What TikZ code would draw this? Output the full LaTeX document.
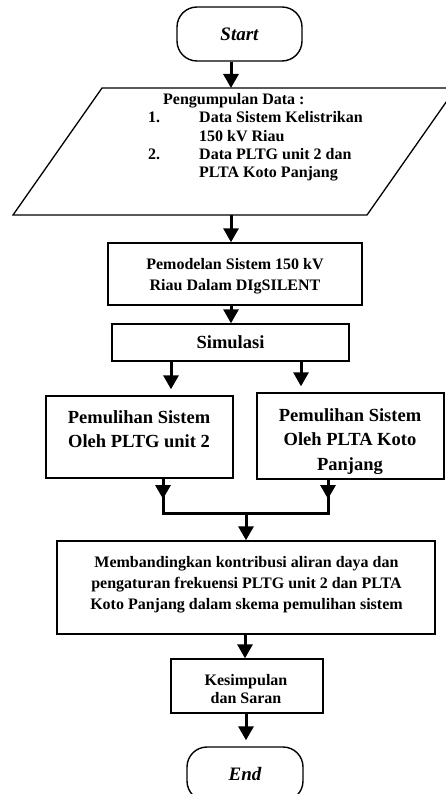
\documentclass[tikz,border=0pt]{standalone}
\usepackage{fontspec}
\setmainfont{Liberation Serif}
\usetikzlibrary{arrows.meta}
\tikzset{
  box/.style={draw, line width=1.4pt, rectangle, inner sep=0pt},
  term/.style={draw, line width=1.4pt, rectangle, rounded corners=20pt, inner sep=0pt, minimum width=#1, minimum height=54pt,
    font=\fontsize{19}{22}\selectfont\bfseries\itshape},
  txt/.style={inner sep=0pt, align=center, anchor=base},
  ptxt/.style={inner sep=0pt, anchor=base west, font=\fontsize{16}{18}\selectfont\bfseries},
  arr/.style={line width=3pt, -{Triangle[length=14pt,width=15pt]}},
  conn/.style={line width=3pt},
}
\begin{document}
\begin{tikzpicture}[x=1pt,y=-1pt]
\useasboundingbox (0,0) rectangle (446,794);
\clip (0,0) rectangle (446,794);
% start
\node[term=125pt] (start) at (239.5,34) {Start};
% parallelogram
\draw[line width=1.3pt] (102,88) -- (456,88) -- (367,215) -- (13,215) -- cycle;
\coordinate (partop) at (231,88);
\coordinate (parbot) at (231,215);
\node[ptxt] (p0) at (163,105) {Pengumpulan Data :};
\node[ptxt] (p1n) at (148,123) {1.};
\node[ptxt] (p1) at (199,123) {Data Sistem Kelistrikan};
\node[ptxt] (p1b) at (199,142) {150 kV Riau};
\node[ptxt] (p2n) at (148,160) {2.};
\node[ptxt] (p2) at (199,160) {Data PLTG unit 2 dan};
\node[ptxt] (p2b) at (199,178) {PLTA Koto Panjang};
% boxes
\node[box, minimum width=254pt, minimum height=62pt] (model) at (235,274) {};
\node[txt, font=\fontsize{16}{21}\selectfont\bfseries] (modelt) at (235,290) {Pemodelan Sistem 150 kV\\Riau Dalam DIgSILENT};
\node[box, minimum width=237pt, minimum height=37pt, font=\fontsize{18.5}{22}\selectfont\bfseries] (sim) at (230.5,342.5) {Simulasi};
\node[box, minimum width=187pt, minimum height=82pt] (b4) at (139.5,437) {};
\node[txt, font=\fontsize{18.5}{24}\selectfont\bfseries] (b4t) at (139,447) {Pemulihan Sistem\\Oleh PLTG unit 2};
\node[box, minimum width=187pt, minimum height=86pt] (b5) at (350.5,436) {};
\node[txt, font=\fontsize{18.5}{24.5}\selectfont\bfseries] (b5t) at (350,470) {Pemulihan Sistem\\Oleh PLTA Koto\\Panjang};
\node[box, minimum width=378pt, minimum height=93pt] (b6) at (246,587.5) {};
\node[txt, font=\fontsize{16}{21}\selectfont\bfseries] (b6t) at (246.5,609) {Membandingkan kontribusi aliran daya dan\\pengaturan frekuensi PLTG unit 2 dan PLTA\\Koto Panjang dalam skema pemulihan sistem};
\node[box, minimum width=152pt, minimum height=54pt] (b7) at (247,686) {};
\node[txt, font=\fontsize{16}{18}\selectfont\bfseries] (b7t) at (246,703) {Kesimpulan\\dan Saran};
\node[term=116pt] (endn) at (245,774) {End};
% connectors
\draw[arr] ([xshift=-8.5pt]start.south) -- (partop);
\draw[arr] (parbot) -- (parbot |- model.north);
\draw[arr] (model.south -| parbot) -- (sim.north -| parbot);
\draw[arr, shorten >=6pt] ([xshift=-59.5pt]sim.south) -- ([xshift=-59.5pt]sim.south |- b4.north);
\draw[arr, shorten >=6pt] ([xshift=70.5pt]sim.south) -- ([xshift=70.5pt]sim.south |- b5.north);
\coordinate (j1) at (163,513);
\coordinate (j2) at (328,513);
\coordinate (jm) at (246,513);
\draw[conn] (j1 |- b4.south) -- (j1) -- (j2) -- (j2 |- b5.south);
\draw[arr] (j1 |- b4.south) -- ([yshift=14pt]j1);
\draw[arr] (j2 |- b5.south) -- ([yshift=14pt]j2);
\draw[arr] (jm) -- (jm |- b6.north);
\draw[arr] ([xshift=-1pt]b6.south) -- ([xshift=-1pt]b6.south |- b7.north);
\draw[arr, shorten >=6pt] ([xshift=-1pt]b7.south) -- ([xshift=-1pt]b7.south |- endn.north);
\end{tikzpicture}
\end{document}
